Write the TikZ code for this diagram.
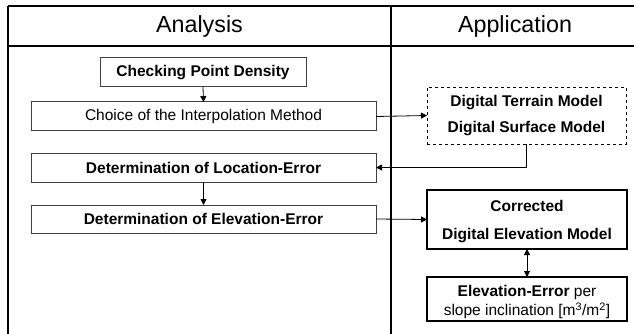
\documentclass[tikz,border=0pt]{standalone}
\usepackage{fontspec}
\setmainfont{Liberation Sans}
\usetikzlibrary{arrows.meta,calc}
\begin{document}
\begin{tikzpicture}[x=1pt,y=-1pt,
  every node/.style={inner sep=0pt,outer sep=0pt},
  tip/.style={-{Triangle[length=6pt,width=6pt]}},
  dtip/.style={{Triangle[length=6pt,width=6pt]}-{Triangle[length=6pt,width=6pt]}},
  conn/.style={line width=0.8pt,tip},
  frame/.style={line width=2pt},
  colline/.style={line width=1.2pt},
  hdr/.style={font=\fontsize{23.3}{26}\selectfont},
  stepbox/.style={draw=black!75,line width=1pt,fill=white,font=\fontsize{15.5}{18}\selectfont,align=center},
  thickbox/.style={draw=black,line width=2.2pt,fill=white,font=\fontsize{15.5}{18}\selectfont,align=center},
  dashbox/.style={draw=black,dashed,line width=0.9pt,fill=white,font=\fontsize{15.5}{18}\selectfont,align=center}
]
\useasboundingbox (0,0) rectangle (634,334);
% frame
\draw[frame] (8,6) -- (640,6);
\draw[frame] (8,46) -- (640,46);
\draw[frame] (8,6) -- (8,46);
\draw[frame] (391,6) -- (391,46);
\draw[colline] (8,46) -- (8,336);
\draw[colline] (391,46) -- (391,336);
\node[hdr] (ha) at (199.5,26) {Analysis};
\node[hdr] (hb) at (515,26) {Application};
% analysis boxes
\node[stepbox,minimum width=206pt,minimum height=29pt] (cpd) at (203,72.5) {\textbf{Checking Point Density}};
\node[stepbox,minimum width=345pt,minimum height=29pt] (cim) at (203.5,116.5) {Choice of the Interpolation Method};
\node[stepbox,minimum width=345pt,minimum height=29pt] (loc) at (203.5,167.5) {\textbf{Determination of Location-Error}};
\node[stepbox,minimum width=345pt,minimum height=28pt] (ele) at (203.5,219) {\textbf{Determination of Elevation-Error}};
% application boxes
\node[dashbox,minimum width=199pt,minimum height=57pt] (dtm) at (526.5,115.5) {\textbf{Digital Terrain Model}\\[8.5pt]\textbf{Digital Surface Model}};
\node[thickbox,minimum width=200pt,minimum height=59pt] (cdem) at (527,219.5) {\rule{0pt}{16pt}\textbf{Corrected}\\[10pt]\textbf{Digital Elevation Model}};
\node[thickbox,minimum width=200pt,minimum height=44pt] (err) at (527,299) {\rule{0pt}{18pt}\textbf{Elevation-Error} per\\[1pt]slope inclination [m\textsuperscript{3}/m\textsuperscript{2}]};
% connectors
\draw[conn] (cpd.south) -- (cim.north);
\draw[conn] (cim.east) -- (dtm.west);
\draw[conn] (dtm.south) |- (loc.east);
\draw[conn] (loc.south) -- (ele.north);
\draw[conn] (ele.east) -- (cdem.west);
\draw[line width=0.8pt,dtip] (cdem.south) -- (err.north);
\end{tikzpicture}
\end{document}
